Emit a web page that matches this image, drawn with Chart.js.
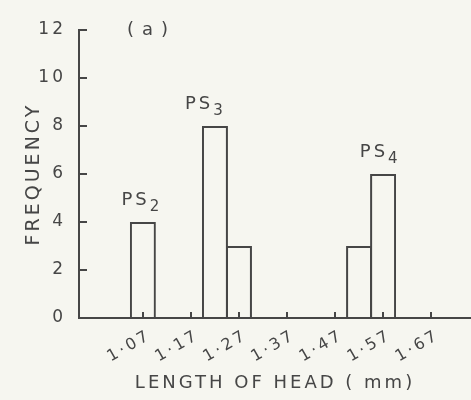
<!DOCTYPE html>
<html>
<head>
<meta charset="utf-8">
<script src="https://cdn.jsdelivr.net/npm/chart.js@4/dist/chart.umd.min.js"></script>
<style>
  html, body { margin: 0; padding: 0; background: #f6f6f0; }
  #wrap { width: 471px; height: 400px; }
</style>
</head>
<body>
<div id="wrap"><canvas id="hist"></canvas></div>
<script>
// Values
const headLength = [1.07, 1.22, 1.27, 1.52, 1.57];
const frequency = [4, 8, 3, 3, 6];
const xTickValues = [1.07, 1.17, 1.27, 1.37, 1.47, 1.57, 1.67];
const yTickValues = [0, 2, 4, 6, 8, 10, 12];
const groupNames = ['PS', 'PS', 'PS'];
const groupSubs = ['2', '3', '4'];
const groupX = [1.068, 1.2, 1.564];
const groupY = [4, 8, 6];

const ink = '#464646';
const fontFamily = '"DejaVu Sans", sans-serif';

// spaced lettering like the stencil text of the original
const spacing = {
    id: 'spacing',
    beforeLayout(chart) { chart.ctx.letterSpacing = '3px'; },
    beforeDraw(chart) { chart.ctx.letterSpacing = '3px'; }
};

// inward tick marks, group labels and panel letter
const marks = {
    id: 'marks',
    afterDatasetsDraw(chart) {
        const { ctx, scales: { x, y } } = chart;
        ctx.save();
        ctx.strokeStyle = ink;
        ctx.lineWidth = 2;
        yTickValues.slice(1).forEach(v => {
            const py = Math.round(y.getPixelForValue(v));
            ctx.beginPath();
            ctx.moveTo(x.left, py);
            ctx.lineTo(x.left + 8, py);
            ctx.stroke();
        });
        xTickValues.forEach(v => {
            const px = Math.round(x.getPixelForValue(v));
            ctx.beginPath();
            ctx.moveTo(px, y.bottom);
            ctx.lineTo(px, y.bottom - 6);
            ctx.stroke();
        });

        ctx.fillStyle = ink;
        ctx.textBaseline = 'alphabetic';
        ctx.textAlign = 'left';
        ctx.letterSpacing = '3px';
        groupNames.forEach((name, i) => {
            ctx.font = '18px ' + fontFamily;
            const w1 = ctx.measureText(name).width;
            ctx.font = '15px ' + fontFamily;
            const w2 = ctx.measureText(groupSubs[i]).width;
            const cx = x.getPixelForValue(groupX[i]);
            const base = y.getPixelForValue(groupY[i]) - 17;
            const left = cx - (w1 + w2) / 2;
            ctx.font = '18px ' + fontFamily;
            ctx.fillText(name, left, base);
            ctx.font = '15px ' + fontFamily;
            ctx.fillText(groupSubs[i], left + w1, base + 6);
        });

        ctx.font = '18px ' + fontFamily;
        ctx.letterSpacing = '8px';
        ctx.fillText('(a)', 127, 35);
        ctx.restore();
    }
};

const histData = {
    datasets: [{
        label: 'Frequency',
        data: headLength.map((v, i) => ({ x: v, y: frequency[i] })),
        backgroundColor: 'rgba(0,0,0,0)',
        borderColor: ink,
        borderWidth: 2,
        borderSkipped: 'bottom',
        barPercentage: 1.08,
        categoryPercentage: 1
    }]
};

const histConfig = {
    type: 'bar',
    data: histData,
    options: {
        responsive: true,
        maintainAspectRatio: false,
        animation: false,
        layout: { padding: { top: 30, right: 0, bottom: 0, left: 0 } },
        plugins: {
            legend: { display: false },
            tooltip: { enabled: false }
        },
        scales: {
            x: {
                type: 'linear',
                min: 0.937,
                max: 1.753,
                offset: false,
                afterBuildTicks: scale => {
                    scale.ticks = xTickValues.map(v => ({ value: v }));
                },
                afterFit: scale => { scale.height = 82; },
                grid: { display: false, drawTicks: false, offset: false },
                border: { display: true, color: ink, width: 2 },
                ticks: {
                    autoSkip: false,
                    minRotation: 30,
                    maxRotation: 30,
                    padding: 8,
                    labelOffset: 7,
                    color: ink,
                    font: { family: fontFamily, size: 16 },
                    callback: value => value.toFixed(2).replace('.', '·')
                },
                title: {
                    display: true,
                    text: 'LENGTH OF HEAD ( mm)',
                    color: ink,
                    font: { family: fontFamily, size: 18 },
                    padding: { top: 0, bottom: 6 }
                }
            },
            y: {
                min: 0,
                max: 12,
                afterBuildTicks: scale => {
                    scale.ticks = yTickValues.map(v => ({ value: v }));
                },
                afterFit: scale => { scale.width = 79; },
                grid: { display: false, drawTicks: false },
                border: { display: true, color: ink, width: 2 },
                ticks: {
                    padding: 13,
                    color: ink,
                    font: { family: fontFamily, size: 17 }
                },
                title: {
                    display: true,
                    text: 'FREQUENCY',
                    color: ink,
                    font: { family: fontFamily, size: 19 },
                    padding: { top: 23, bottom: 0 }
                }
            }
        }
    },
    plugins: [spacing, marks]
};

const histCtx = document.getElementById('hist').getContext('2d');
new Chart(histCtx, histConfig);
</script>
</body>
</html>
